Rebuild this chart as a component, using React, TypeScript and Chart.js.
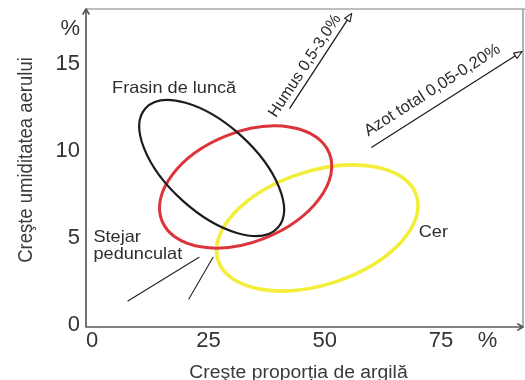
import React, { useEffect, useRef } from 'react';
import { Chart, registerables } from 'chart.js';

Chart.register(...registerables);

// ---- data (clay % on x, air humidity % on y) ----
const speciesNames = ['Cer', 'Stejar pedunculat', 'Frasin de luncă'];
const speciesColors = ['#f2ee3a', '#dc343a', '#1c1c1c'];
const speciesLineWidths = [3.6, 3, 2.2];
// ellipse = centre + end of one semi-diameter + end of its conjugate semi-diameter
const centerClay = [48.4, 33.0, 25.7];
const centerHumidity = [5.58, 7.93, 9.02];
const majorEndClay = [69.7, 51.0, 39.9];
const majorEndHumidity = [7.45, 9.86, 5.59];
const minorEndClay = [52.3, 37.3, 19.4];
const minorEndHumidity = [2.49, 5.01, 7.16];

// species label anchors (left / baseline)
const labelClay = [70.2, 0.3, 4.3];
const labelHumidity = [5.08, 4.79, 13.3];

// trend arrows
const trendLabels = ['Humus 0,5-3,0%', 'Azot total 0,05-0,20%'];
const trendStartClay = [42.5, 60.1];
const trendStartHumidity = [12.46, 10.21];
const trendEndClay = [55.8, 92.4];
const trendEndHumidity = [17.89, 15.7];

// pointer lines for "Stejar pedunculat"
const pointerStartClay = [7.7, 20.8];
const pointerStartHumidity = [1.39, 1.51];
const pointerEndClay = [23.0, 26.0];
const pointerEndHumidity = [3.9, 3.9];

// axes
const xTickValues = [0, 25, 50, 75];
const yTickValues = [0, 5, 10, 15];
const xUnitPosition = 85;
const yUnitPosition = 17;
const xMin = -1.3;
const xMax = 92.6;
const yMin = -0.1;
const yMax = 18.14;
const xTitle = 'Creşte proporția de argilă';
const yTitle = 'Creşte umiditatea aerului';

const FONT = '"Liberation Sans", Arial, Helvetica, sans-serif';
const TEXT = '#333333';

function drawText(ctx: CanvasRenderingContext2D, text: string, x: number, y: number, size: number, opts: any = {}) {
  ctx.save();
  ctx.translate(x, y);
  if (opts.rotate) ctx.rotate(opts.rotate);
  ctx.scale(opts.sx ?? 1, opts.sy ?? 1);
  ctx.font = `${size}px ${FONT}`;
  ctx.fillStyle = opts.color ?? TEXT;
  ctx.textAlign = opts.align ?? 'left';
  ctx.textBaseline = 'alphabetic';
  ctx.fillText(text, 0, 0);
  ctx.restore();
}

function arrowHead(ctx: CanvasRenderingContext2D, tx: number, ty: number, dx: number, dy: number, len: number, half: number) {
  const bx = tx - dx * len;
  const by = ty - dy * len;
  ctx.beginPath();
  ctx.moveTo(tx, ty);
  ctx.lineTo(bx - dy * half, by + dx * half);
  ctx.lineTo(bx + dy * half, by - dx * half);
  ctx.closePath();
  ctx.fillStyle = '#ffffff';
  ctx.fill();
  ctx.stroke();
}

const overlayPlugin = {
  id: 'ecologyOverlay',
  afterDatasetsDraw(chart: any) {
    const { ctx, chartArea, scales } = chart;
    const xs = scales.x;
    const ys = scales.y;
    const px = (v: number) => xs.getPixelForValue(v);
    const py = (v: number) => ys.getPixelForValue(v);
    const { left, right, top, bottom } = chartArea;

    ctx.save();
    ctx.lineCap = 'round';
    ctx.lineJoin = 'round';

    // frame (top and right)
    ctx.strokeStyle = '#808080';
    ctx.lineWidth = 1.2;
    ctx.beginPath();
    ctx.moveTo(left, top);
    ctx.lineTo(chart.width, top);
    ctx.moveTo(right, top);
    ctx.lineTo(right, bottom);
    ctx.stroke();

    // axes with arrows
    ctx.strokeStyle = '#5a5a5a';
    ctx.lineWidth = 1.7;
    ctx.beginPath();
    ctx.moveTo(left, bottom);
    ctx.lineTo(left, top);
    ctx.moveTo(left - 3, top + 5);
    ctx.lineTo(left, top);
    ctx.lineTo(left + 3, top + 5);
    ctx.moveTo(left, bottom);
    ctx.lineTo(right, bottom);
    ctx.moveTo(right - 5, bottom - 3);
    ctx.lineTo(right, bottom);
    ctx.lineTo(right - 5, bottom + 3);
    ctx.stroke();

    // ellipses
    for (let i = 0; i < speciesNames.length; i++) {
      const cx = px(centerClay[i]);
      const cy = py(centerHumidity[i]);
      const ux = px(majorEndClay[i]) - cx;
      const uy = py(majorEndHumidity[i]) - cy;
      const vx = px(minorEndClay[i]) - cx;
      const vy = py(minorEndHumidity[i]) - cy;
      ctx.beginPath();
      ctx.save();
      ctx.transform(ux, uy, vx, vy, cx, cy);
      ctx.arc(0, 0, 1, 0, Math.PI * 2);
      ctx.restore();
      ctx.closePath();
      ctx.strokeStyle = speciesColors[i];
      ctx.lineWidth = speciesLineWidths[i];
      ctx.stroke();
    }

    // pointer lines
    ctx.strokeStyle = '#222222';
    ctx.lineWidth = 1.1;
    for (let i = 0; i < pointerStartClay.length; i++) {
      ctx.beginPath();
      ctx.moveTo(px(pointerStartClay[i]), py(pointerStartHumidity[i]));
      ctx.lineTo(px(pointerEndClay[i]), py(pointerEndHumidity[i]));
      ctx.stroke();
    }

    // trend arrows with labels
    const trendTextSize = [16, 16.5];
    const trendAlong = [-13, -7.4];
    const trendUp = [6, 11];
    for (let i = 0; i < trendLabels.length; i++) {
      const x0 = px(trendStartClay[i]);
      const y0 = py(trendStartHumidity[i]);
      const x1 = px(trendEndClay[i]);
      const y1 = py(trendEndHumidity[i]);
      const len = Math.hypot(x1 - x0, y1 - y0);
      const dx = (x1 - x0) / len;
      const dy = (y1 - y0) / len;
      ctx.strokeStyle = '#1e1e1e';
      ctx.lineWidth = 1.3;
      ctx.beginPath();
      ctx.moveTo(x0, y0);
      ctx.lineTo(x1 - dx * 7, y1 - dy * 7);
      ctx.stroke();
      ctx.lineWidth = 1.1;
      arrowHead(ctx, x1, y1, dx, dy, 8, 3.2);
      const ang = Math.atan2(dy, dx);
      const nx = dy; // up normal = (sin, -cos)
      const ny = -dx;
      const mx = (x0 + x1) / 2 + dx * trendAlong[i] + nx * trendUp[i];
      const my = (y0 + y1) / 2 + dy * trendAlong[i] + ny * trendUp[i];
      drawText(ctx, trendLabels[i], mx, my, trendTextSize[i], { rotate: ang, align: 'center', color: '#2a2a2a' });
    }

    // species labels
    for (let i = 0; i < speciesNames.length; i++) {
      const lines = speciesNames[i] === 'Stejar pedunculat' ? ['Stejar', 'pedunculat'] : [speciesNames[i]];
      lines.forEach((t, k) => {
        drawText(ctx, t, px(labelClay[i]), py(labelHumidity[i]) + k * 17.6, 16.5, { sx: 1.1, color: '#2e2e2e' });
      });
    }

    // axis titles
    drawText(ctx, xTitle, (left + right) / 2 - 6, chart.height - 2, 17.6, { sx: 1.1, align: 'center', color: '#3a3a3a' });
    drawText(ctx, yTitle, 32, (top + bottom) / 2 - 8, 18.5, { rotate: -Math.PI / 2, sy: 1.1, align: 'center', color: '#3a3a3a' });

    ctx.restore();
  },
};

export default function App() {
  const canvasRef = useRef<HTMLCanvasElement | null>(null);

  useEffect(() => {
    const canvas = canvasRef.current;
    if (!canvas) return;
    const chart = new Chart(canvas, {
      type: 'scatter',
      data: {
        datasets: speciesNames.map((name, i) => ({
          label: name,
          data: [{ x: centerClay[i], y: centerHumidity[i] }],
          pointRadius: 0,
          borderColor: speciesColors[i],
          backgroundColor: speciesColors[i],
          showLine: false,
        })),
      },
      options: {
        animation: false,
        responsive: false,
        devicePixelRatio: 1,
        layout: { padding: { top: 9, right: 2, left: 0, bottom: 0 } },
        plugins: {
          legend: { display: false },
          tooltip: { enabled: false },
          title: { display: false },
        },
        events: [],
        scales: {
          x: {
            type: 'linear',
            min: xMin,
            max: xMax,
            grid: { display: false, drawTicks: false },
            border: { display: false },
            afterBuildTicks: (scale: any) => {
              scale.ticks = [...xTickValues, xUnitPosition].map((value) => ({ value }));
            },
            afterFit: (scale: any) => {
              scale.height = 53;
              scale.paddingLeft = 0;
              scale.paddingRight = 0;
              scale.paddingTop = 0;
              scale.paddingBottom = 0;
            },
            ticks: {
              autoSkip: false,
              maxRotation: 0,
              padding: 1,
              color: TEXT,
              font: { family: FONT, size: 22 },
              callback: (v: any) => (v === xUnitPosition ? '%' : String(v)),
            },
          },
          y: {
            type: 'linear',
            min: yMin,
            max: yMax,
            grid: { display: false, drawTicks: false },
            border: { display: false },
            afterBuildTicks: (scale: any) => {
              scale.ticks = [...yTickValues, yUnitPosition].map((value) => ({ value }));
            },
            afterFit: (scale: any) => {
              scale.width = 86;
              scale.paddingLeft = 0;
              scale.paddingRight = 0;
              scale.paddingTop = 0;
              scale.paddingBottom = 0;
            },
            ticks: {
              autoSkip: false,
              padding: 6,
              color: TEXT,
              font: { family: FONT, size: 22 },
              callback: (v: any) => (v === yUnitPosition ? '%' : String(v)),
            },
          },
        },
      } as any,
      plugins: [overlayPlugin],
    });
    return () => chart.destroy();
  }, []);

  return (
    <div style={{ position: 'absolute', left: 0, top: 0, width: 525, height: 380, background: '#ffffff' }}>
      <canvas ref={canvasRef} width={525} height={380} />
    </div>
  );
}
